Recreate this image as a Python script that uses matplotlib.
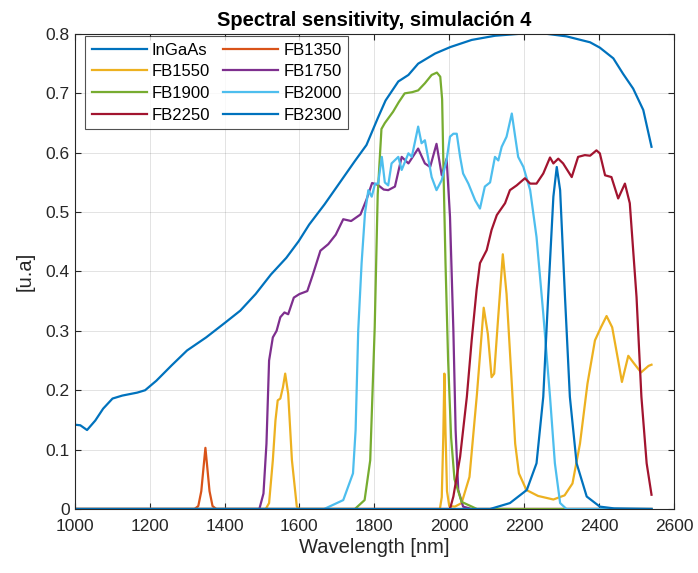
import matplotlib
matplotlib.use('Agg')
import matplotlib.pyplot as plt

plt.rcParams['font.family'] = ['Liberation Sans', 'DejaVu Sans']

# values
ingaas_wl = [1000, 1015, 1033, 1055, 1076, 1101, 1127, 1167, 1188, 1218, 1259, 1300,
             1351, 1402, 1442, 1483, 1524, 1565, 1598, 1626, 1667, 1707, 1748, 1779,
             1809, 1830, 1864, 1891, 1917, 1962, 2003, 2060, 2122, 2202, 2251, 2313,
             2376, 2402, 2438, 2464, 2491, 2518, 2540]
ingaas = [0.142, 0.141, 0.133, 0.149, 0.169, 0.186, 0.191, 0.196, 0.200, 0.216, 0.242, 0.267,
          0.289, 0.314, 0.334, 0.362, 0.395, 0.423, 0.451, 0.479, 0.513, 0.549, 0.586, 0.613,
          0.658, 0.688, 0.720, 0.731, 0.750, 0.767, 0.778, 0.790, 0.797, 0.801, 0.801, 0.796,
          0.786, 0.777, 0.759, 0.733, 0.708, 0.672, 0.610]

fb1350_wl = [1000, 1320, 1330, 1338, 1344, 1349, 1354, 1360, 1368, 1378, 2540]
fb1350 = [0, 0, 0.005, 0.03, 0.07, 0.103, 0.07, 0.03, 0.005, 0, 0]

fb1550_wl = [1000, 1510, 1519, 1529, 1536, 1542, 1549, 1556, 1562, 1570, 1580, 1593, 1600,
             1975, 1980, 1984, 1987, 1990, 1994, 2000, 2015, 2033, 2054, 2074, 2092,
             2103, 2113, 2120, 2130, 2143, 2153, 2166, 2176, 2186, 2206, 2237, 2278,
             2308, 2329, 2349, 2369, 2389, 2405, 2420, 2435, 2451, 2461, 2478, 2491,
             2512, 2532, 2540]
fb1550 = [0, 0, 0.01, 0.082, 0.149, 0.183, 0.186, 0.205, 0.228, 0.194, 0.082, 0.004, 0,
          0, 0.02, 0.12, 0.228, 0.13, 0.03, 0.005, 0.004, 0.01, 0.054, 0.194, 0.339,
          0.295, 0.222, 0.228, 0.317, 0.429, 0.362, 0.222, 0.110, 0.060, 0.032, 0.022, 0.016,
          0.023, 0.043, 0.110, 0.211, 0.284, 0.306, 0.325, 0.306, 0.250, 0.214, 0.258, 0.247,
          0.230, 0.241, 0.243]

fb1750_wl = [1000, 1493, 1504, 1512, 1519, 1529, 1539, 1549, 1560, 1570, 1585, 1600, 1621,
             1636, 1656, 1677, 1697, 1717, 1738, 1763, 1779, 1794, 1809, 1825, 1837,
             1855, 1873, 1891, 1917, 1935, 1949, 1966, 1980, 1993, 2002, 2011, 2017,
             2024, 2037, 2060, 2540]
fb1750 = [0, 0, 0.026, 0.11, 0.25, 0.289, 0.300, 0.323, 0.331, 0.328, 0.356, 0.362, 0.367,
          0.395, 0.435, 0.446, 0.462, 0.488, 0.485, 0.496, 0.521, 0.549, 0.546, 0.538, 0.537,
          0.543, 0.593, 0.582, 0.607, 0.582, 0.576, 0.615, 0.562, 0.590, 0.492, 0.301, 0.133,
          0.032, 0.004, 0, 0]

fb1900_wl = [1000, 1748, 1774, 1789, 1801, 1809, 1819, 1828, 1850, 1865, 1881, 1901,
             1917, 1935, 1953, 1967, 1976, 1981, 1985, 1990, 1997, 2005, 2014, 2033,
             2074, 2540]
fb1900 = [0, 0, 0.015, 0.082, 0.306, 0.53, 0.640, 0.650, 0.669, 0.685, 0.700, 0.702,
          0.705, 0.717, 0.731, 0.735, 0.728, 0.690, 0.560, 0.414, 0.250, 0.120, 0.050, 0.012,
          0, 0]

fb2000_wl = [1000, 1666, 1717, 1743, 1750, 1757, 1766, 1775, 1784, 1793, 1802, 1810,
             1820, 1828, 1837, 1846, 1864, 1873, 1891, 1900, 1917, 1926, 1935, 1953,
             1966, 1980, 1993, 2002, 2011, 2020, 2029, 2037, 2051, 2069, 2082, 2095,
             2109, 2122, 2131, 2140, 2153, 2167, 2176, 2184, 2198, 2216, 2233, 2251,
             2269, 2282, 2296, 2313, 2540]
fb2000 = [0, 0, 0.015, 0.06, 0.133, 0.301, 0.414, 0.498, 0.537, 0.526, 0.548, 0.548,
          0.593, 0.550, 0.545, 0.582, 0.593, 0.571, 0.599, 0.593, 0.644, 0.616, 0.621, 0.559,
          0.537, 0.554, 0.588, 0.627, 0.632, 0.632, 0.593, 0.565, 0.548, 0.520, 0.506, 0.543,
          0.550, 0.593, 0.587, 0.610, 0.627, 0.666, 0.627, 0.593, 0.576, 0.537, 0.458, 0.329,
          0.189, 0.077, 0.010, 0, 0]

fb2250_wl = [1000, 2002, 2011, 2029, 2047, 2060, 2073, 2082, 2100, 2113, 2127, 2149,
             2162, 2180, 2202, 2216, 2233, 2251, 2269, 2278, 2291, 2304, 2327, 2344,
             2362, 2376, 2393, 2402, 2416, 2433, 2451, 2469, 2482, 2500, 2513, 2527,
             2540]
fb2250 = [0, 0, 0.021, 0.088, 0.189, 0.285, 0.369, 0.414, 0.436, 0.470, 0.495, 0.515,
          0.537, 0.545, 0.557, 0.548, 0.548, 0.565, 0.592, 0.582, 0.590, 0.582, 0.559, 0.593,
          0.596, 0.595, 0.604, 0.599, 0.562, 0.559, 0.523, 0.548, 0.515, 0.357, 0.189, 0.077,
          0.024]

fb2300_wl = [1000, 2109, 2162, 2207, 2233, 2251, 2264, 2278, 2287, 2296, 2309, 2322,
             2340, 2367, 2402, 2440, 2540]
fb2300 = [0, 0, 0.01, 0.032, 0.077, 0.189, 0.357, 0.526, 0.576, 0.537, 0.357, 0.189,
          0.077, 0.021, 0.004, 0.001, 0]

labels = ['InGaAs', 'FB1350', 'FB1550', 'FB1750', 'FB1900', 'FB2000', 'FB2250', 'FB2300']
colors = ['#0072BD', '#D95319', '#EDB120', '#7E2F8E', '#77AC30', '#4DBEEE', '#A2142F', '#0072BD']

series = [(ingaas_wl, ingaas), (fb1350_wl, fb1350), (fb1550_wl, fb1550),
          (fb1750_wl, fb1750), (fb1900_wl, fb1900), (fb2000_wl, fb2000),
          (fb2250_wl, fb2250), (fb2300_wl, fb2300)]

fig = plt.figure(figsize=(6.98, 5.73), dpi=100)
ax = fig.add_axes([0.107, 0.1117, 0.8586, 0.829])

handles = []
for (wl, val), lab, col in zip(series, labels, colors):
    h, = ax.plot(wl, val, color=col, lw=1.6, label=lab)
    handles.append(h)

ax.set_xlim(1000, 2600)
ax.set_ylim(0, 0.8)
ax.set_xticks(range(1000, 2601, 200))
ax.set_yticks([0, 0.1, 0.2, 0.3, 0.4, 0.5, 0.6, 0.7, 0.8])
ax.set_yticklabels(['0', '0.1', '0.2', '0.3', '0.4', '0.5', '0.6', '0.7', '0.8'])
ax.grid(True, color='#262626', alpha=0.15, lw=0.6)
ax.tick_params(direction='in', top=True, right=True, labelsize=12.5,
               colors='#262626', length=4)
ax.tick_params(axis='x', pad=7)
for s in ax.spines.values():
    s.set_color('#262626')
    s.set_linewidth(0.8)

ax.set_xlabel('Wavelength [nm]', fontsize=14.5, color='#262626', labelpad=3)
ax.set_ylabel('[u.a]', fontsize=14.5, color='#262626', labelpad=8)
ax.set_title('Spectral sensitivity, simulación 4', fontsize=14.5, fontweight='bold', pad=6)

# matplotlib fills legend columns first, reorder for row layout
order = [0, 2, 4, 6, 1, 3, 5, 7]
leg = ax.legend([handles[i] for i in order], [labels[i] for i in order],
                ncol=2, loc='upper left', bbox_to_anchor=(0.017, 0.996),
                fontsize=12, handlelength=3.3, borderaxespad=0,
                frameon=True, fancybox=False, edgecolor='#262626',
                labelspacing=0.4, columnspacing=0.8,
                handletextpad=0.3, borderpad=0.4)
leg.get_frame().set_linewidth(0.8)

fig.savefig('out.png', dpi=100)
